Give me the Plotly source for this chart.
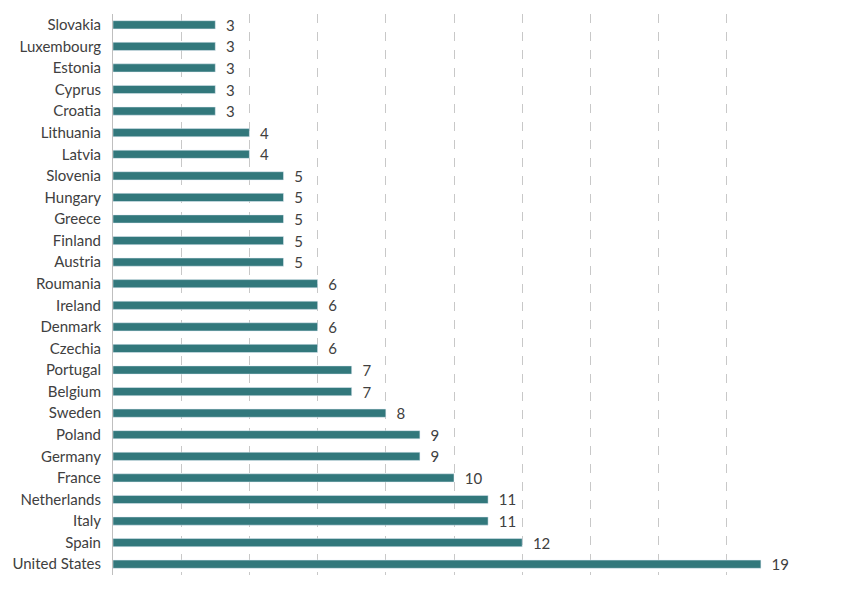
import plotly.graph_objects as go

countries = ["Slovakia", "Luxembourg", "Estonia", "Cyprus", "Croatia", "Lithuania", "Latvia",
             "Slovenia", "Hungary", "Greece", "Finland", "Austria", "Roumania", "Ireland",
             "Denmark", "Czechia", "Portugal", "Belgium", "Sweden", "Poland", "Germany",
             "France", "Netherlands", "Italy", "Spain", "United States"]
values = [3, 3, 3, 3, 3, 4, 4, 5, 5, 5, 5, 5, 6, 6, 6, 6, 7, 7, 8, 9, 9, 10, 11, 11, 12, 19]

fig = go.Figure(go.Bar(
    x=values, y=countries, orientation="h",
    marker=dict(color="#32787c"),
    width=0.38,
    text=[str(v) for v in values],
    texttemplate="\u00a0\u00a0%{text}",
    textposition="outside",
    constraintext="none",
    textfont=dict(size=15, color="#404040", family="Lato"),
    cliponaxis=False,
))

fig.update_layout(
    width=850, height=589,
    margin=dict(l=105, r=63, t=6, b=22, autoexpand=False),
    plot_bgcolor="white", paper_bgcolor="white",
    font=dict(family="Lato", size=15, color="#404040"),
    showlegend=False,
    bargap=0.6,
)
fig.update_xaxes(range=[0, 20], dtick=2, showticklabels=False, showgrid=True,
                 gridcolor="#c8c8c8", griddash="dash", gridwidth=1,
                 zeroline=False, showline=False)
fig.update_yaxes(autorange="reversed", showgrid=False, showline=True,
                 linecolor="#bfbfbf", linewidth=1, ticks="", ticklabelstandoff=8)

fig.write_html("out.html")
